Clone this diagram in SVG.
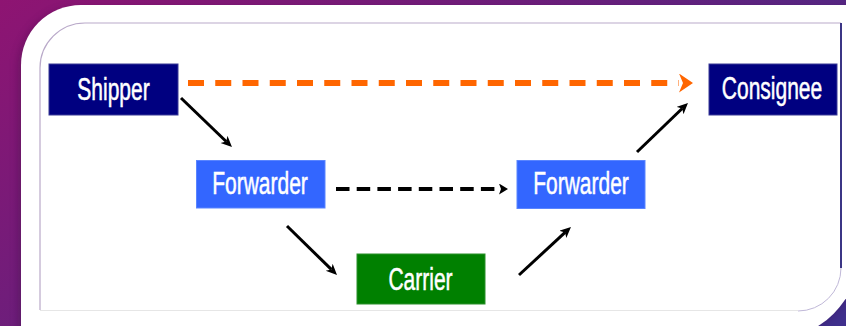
<svg xmlns="http://www.w3.org/2000/svg" width="846" height="326" viewBox="0 0 846 326">
  <defs>
    <linearGradient id="bg" x1="0" y1="0" x2="1" y2="0.6">
      <stop offset="0" stop-color="#8e1472"/>
      <stop offset="0.5" stop-color="#6a1f7c"/>
      <stop offset="1" stop-color="#3f2f8c"/>
    </linearGradient>
    <filter id="sh" x="-5%" y="-5%" width="110%" height="110%">
      <feGaussianBlur stdDeviation="4"/>
    </filter>
    <marker id="headBlack" markerUnits="userSpaceOnUse" markerWidth="12" markerHeight="12" refX="3" refY="5" orient="auto">
      <path d="M0,0 L11,5 L0,10 L3,5 z" fill="#000"/>
    </marker>
    <marker id="headDash" markerUnits="userSpaceOnUse" markerWidth="11" markerHeight="12" refX="0" refY="5.5" orient="auto">
      <path d="M0,0 L9,5.5 L0,11 L2,5.5 z" fill="#000"/>
    </marker>
    <marker id="headOrange" markerUnits="userSpaceOnUse" markerWidth="16" markerHeight="20" refX="0" refY="9.5" orient="auto">
      <path d="M0,0 L14,9.5 L0,19 L4,9.5 z" fill="#ff6600"/>
    </marker>
  </defs>
  <style>
    .box-navy { fill: #000080; stroke: #3a3a96; stroke-width: 1; }
    .box-blue { fill: #3366ff; stroke: #5a85ff; stroke-width: 1; }
    .box-green { fill: #008000; stroke: #2a8f2a; stroke-width: 1; }
    .label { font-family: "Liberation Sans", Arial, sans-serif; font-size: 21px; fill: #ffffff; stroke: #ffffff; stroke-width: 0.35; text-anchor: middle; }
    .solid { stroke: #000; stroke-width: 3; fill: none; marker-end: url(#headBlack); }
    .dash-black { stroke: #000; stroke-width: 4; fill: none; stroke-dasharray: 13.5 7.2; marker-end: url(#headDash); }
    .dash-orange { stroke: #ff6600; stroke-width: 6; fill: none; stroke-dasharray: 16 11.25; marker-end: url(#headOrange); }
  </style>

  <rect x="0" y="0" width="846" height="326" fill="url(#bg)"/>
  <path d="M18,68 A60,60 0 0 1 78,8 L860,8 L860,250 A90,90 0 0 1 770,340 L18,340 Z" fill="#3a0d40" opacity="0.35" filter="url(#sh)"/>
  <path d="M21,65 A60,60 0 0 1 81,5 L860,5 L860,250 A90,90 0 0 1 770,340 L21,340 Z" fill="#ffffff"/>

  <path d="M40,310 L40,68 A45,45 0 0 1 85,23 L841,23" fill="#ffffff" stroke="#b9a9c9" stroke-width="1.2"/>
  <path d="M841,23 L841,268" fill="none" stroke="#3b3585" stroke-width="2"/>
  <path d="M841,268 A43,43 0 0 1 798,311" fill="none" stroke="#c0b8d8" stroke-width="1"/>
  <path d="M798,310.5 L40,310.5" fill="none" stroke="#e6e6e6" stroke-width="1.2"/>

  <g id="connectors">
    <path class="dash-orange" d="M188,83 L679,83"/>
    <path class="dash-black" d="M336,189 L499,189"/>
    <path class="solid" d="M181,98 L226.2,141.5"/>
    <path class="solid" d="M287,226 L331.3,269.4"/>
    <path class="solid" d="M519,275 L565.1,232.4"/>
    <path class="solid" d="M637,152 L682.2,108.5"/>
  </g>

  <g id="shipper">
    <rect class="box-navy" x="49" y="64" width="129" height="51"/>
    <text class="label" transform="translate(113.5,99.5) scale(1,1.47)">Shipper</text>
  </g>
  <g id="consignee">
    <rect class="box-navy" x="709" y="64" width="128" height="51"/>
    <text class="label" transform="translate(772,99) scale(1,1.47)">Consignee</text>
  </g>
  <g id="forwarder-left">
    <rect class="box-blue" x="196.5" y="160.5" width="128.5" height="47.5"/>
    <text class="label" transform="translate(260,193.5) scale(1,1.47)">Forwarder</text>
  </g>
  <g id="forwarder-right">
    <rect class="box-blue" x="517" y="160.5" width="128" height="48"/>
    <text class="label" transform="translate(581,194) scale(1,1.47)">Forwarder</text>
  </g>
  <g id="carrier">
    <rect class="box-green" x="357" y="254" width="128" height="50"/>
    <text class="label" transform="translate(420.5,290) scale(1,1.47)">Carrier</text>
  </g>
</svg>
